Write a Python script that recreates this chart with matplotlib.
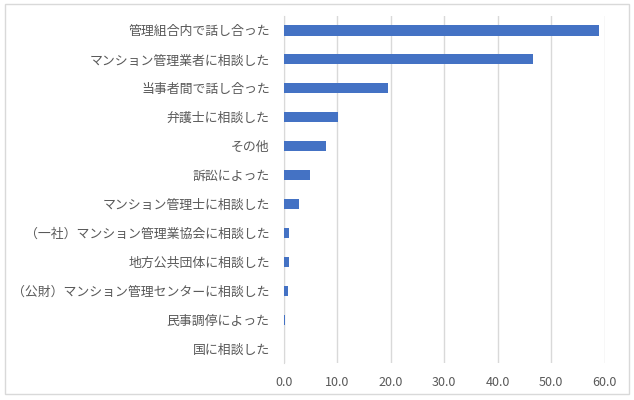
import matplotlib.pyplot as plt
from matplotlib.patches import Rectangle

plt.rcParams['font.family'] = ['Noto Sans CJK JP', 'DejaVu Sans']

# categories, top to bottom
labels = ['管理組合内で話し合った', 'マンション管理業者に相談した', '当事者間で話し合った',
          '弁護士に相談した', 'その他', '訴訟によった', 'マンション管理士に相談した',
          '（一社）マンション管理業協会に相談した', '地方公共団体に相談した',
          '（公財）マンション管理センターに相談した', '民事調停によった', '国に相談した']
values = [58.9, 46.5, 19.4, 10.1, 7.9, 4.9, 2.9, 0.9, 0.9, 0.75, 0.25, 0.0]
xticks = [0, 10, 20, 30, 40, 50, 60]

fig = plt.figure(figsize=(6.34, 4), dpi=100)
ax = fig.add_axes([0.4475, 0.0925, 0.5065, 0.8675])

y = list(range(len(labels)))
ax.barh(y, values, height=0.35, color='#4472C4', zorder=3)
ax.set_ylim(len(labels) - 0.5, -0.5)
ax.set_xlim(0, 60)
ax.set_yticks(y)
ax.set_yticklabels(labels)
ax.set_xticks(xticks)
ax.set_xticklabels(['%.1f' % t for t in xticks])
ax.tick_params(length=0, labelsize=9, colors='#595959')
ax.tick_params(axis='y', pad=10, labelsize=9.3)
ax.tick_params(axis='x', pad=9)
ax.grid(axis='x', color='#d9d9d9', linewidth=1, zorder=0)
for s in ['top', 'right', 'bottom']:
    ax.spines[s].set_visible(False)
ax.spines['left'].set_color('#d9d9d9')
ax.spines['left'].set_zorder(2)

# chart border
fig.patches.append(Rectangle((5 / 634, 6 / 400), 624 / 634, 390 / 400,
                             transform=fig.transFigure, fill=False,
                             edgecolor='#d9d9d9', linewidth=1))

fig.savefig('out.png', dpi=100)
